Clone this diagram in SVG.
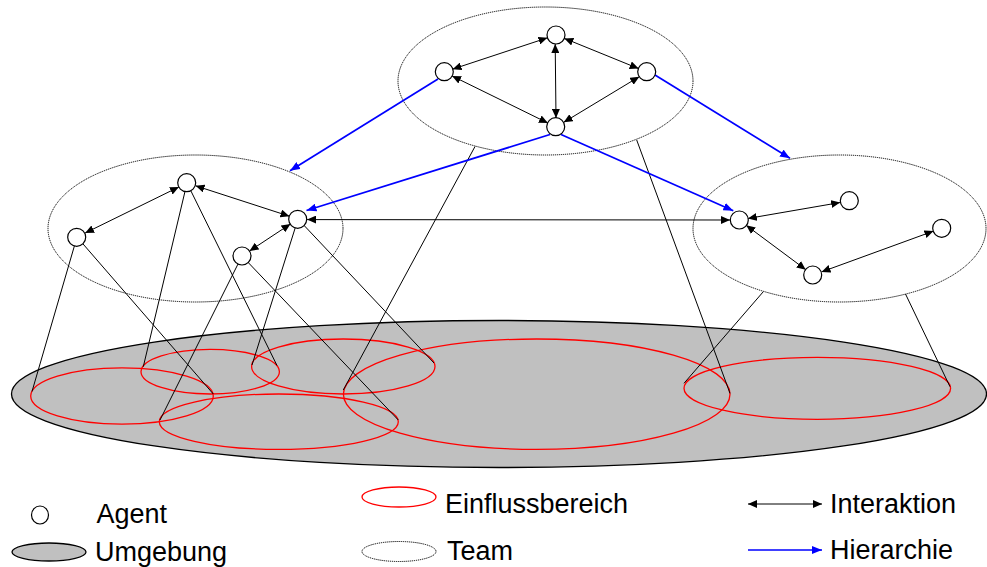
<svg xmlns="http://www.w3.org/2000/svg" width="987" height="567" viewBox="0 0 987 567">
<style>
.env{fill:#c0c0c0;stroke:#000;stroke-width:1.3}
.inf{fill:none;stroke:#ff0000;stroke-width:1.3}
.team{fill:none;stroke:#000;stroke-width:1;stroke-dasharray:1.2 0.8}
.agent{fill:#fff;stroke:#000;stroke-width:1.2}
.proj{fill:none;stroke:#000;stroke-width:1}
.ia{fill:none;stroke:#000;stroke-width:1;marker-start:url(#ah);marker-end:url(#ah)}
.hi{fill:none;stroke:#0000ff;stroke-width:1.7;marker-end:url(#bh)}
text{font-family:"Liberation Sans",Arial,sans-serif;font-size:27px;fill:#000}
</style>
<defs>
<marker id="ah" markerUnits="userSpaceOnUse" markerWidth="9" markerHeight="8" refX="9" refY="4" orient="auto-start-reverse" viewBox="0 0 9 8"><path d="M0,0 L9,4 L0,8 z" fill="#000"/></marker>
<marker id="bh" markerUnits="userSpaceOnUse" markerWidth="10" markerHeight="8" refX="10" refY="4" orient="auto" viewBox="0 0 10 8"><path d="M0,0 L10,4 L0,8 z" fill="#0000ff"/></marker>
</defs>

<g id="umgebung"><ellipse class="env" cx="499" cy="394" rx="487.5" ry="73.5"/></g>

<g id="einflussbereiche">
<ellipse id="inf1" class="inf" cx="122" cy="396" rx="91.3" ry="28.2"/>
<ellipse id="inf2" class="inf" cx="210.2" cy="371.7" rx="69.2" ry="22.3"/>
<ellipse id="inf3" class="inf" cx="343.3" cy="366.5" rx="91.7" ry="27.5"/>
<ellipse id="inf4" class="inf" cx="278.8" cy="421.7" rx="119.5" ry="27.7"/>
<ellipse id="inf5" class="inf" cx="536.7" cy="394.2" rx="193.3" ry="55.2"/>
<ellipse id="inf6" class="inf" cx="817.3" cy="388.3" rx="133.3" ry="31"/>
</g>

<g id="teams">
<ellipse id="team-top" class="team" cx="545.5" cy="81" rx="147.5" ry="74"/>
<ellipse id="team-left" class="team" cx="195.5" cy="228.5" rx="147.5" ry="73.5"/>
<ellipse id="team-right" class="team" cx="839.5" cy="228.5" rx="146.5" ry="73.5"/>
</g>

<g id="connectors">
<g id="projections">
<line class="proj" x1="77" y1="237" x2="32" y2="391.5"/>
<line class="proj" x1="77" y1="237" x2="213.3" y2="394"/>
<line class="proj" x1="187" y1="183" x2="143.3" y2="366.7"/>
<line class="proj" x1="187" y1="183" x2="277" y2="365.5"/>
<line class="proj" x1="242" y1="256" x2="160" y2="420"/>
<line class="proj" x1="242" y1="256" x2="398.3" y2="420"/>
<line class="proj" x1="298" y1="219" x2="252" y2="365"/>
<line class="proj" x1="298" y1="219" x2="434" y2="363"/>
<line class="proj" x1="475" y1="146.5" x2="343.3" y2="390"/>
<line class="proj" x1="636.7" y1="140" x2="730" y2="393.3"/>
<line class="proj" x1="763.3" y1="291.7" x2="684" y2="383.3"/>
<line class="proj" x1="905.5" y1="294" x2="950" y2="386.7"/>
</g>
<g id="interaktionen">
<line class="ia" x1="547.45" y1="37.82" x2="452.55" y2="69.18"/>
<line class="ia" x1="564.34" y1="38.39" x2="638.66" y2="68.61"/>
<line class="ia" x1="555.2" y1="44" x2="556" y2="118"/>
<line class="ia" x1="452.08" y1="75.97" x2="547.92" y2="123.03"/>
<line class="ia" x1="639.3" y1="76.66" x2="563.7" y2="122.34"/>
<line class="ia" x1="178.92" y1="186.97" x2="85.08" y2="233.03"/>
<line class="ia" x1="195.56" y1="185.78" x2="289.44" y2="216.22"/>
<line class="ia" x1="290.49" y1="223.96" x2="249.51" y2="251.04"/>
<line class="ia" x1="307" y1="219.6" x2="730" y2="220"/>
<line class="ia" x1="747.87" y1="218.47" x2="840.13" y2="202.53"/>
<line class="ia" x1="746.22" y1="225.37" x2="805.78" y2="269.63"/>
<line class="ia" x1="821.46" y1="271.92" x2="933.54" y2="231.08"/>
</g>
<g id="hierarchie">
<line class="hi" x1="438" y1="79" x2="290" y2="170.7"/>
<line class="hi" x1="655" y1="75" x2="790" y2="158.3"/>
<line class="hi" x1="550" y1="134.5" x2="306.5" y2="210.5"/>
<line class="hi" x1="561" y1="134.5" x2="733.3" y2="210.7"/>
</g>
</g>

<g id="agents">
<circle id="t1" class="agent" cx="556" cy="35" r="9"/>
<circle id="t2" class="agent" cx="444.3" cy="71.7" r="9"/>
<circle id="t3" class="agent" cx="646.7" cy="71.7" r="9"/>
<circle id="t4" class="agent" cx="555.7" cy="126.7" r="9"/>
<circle id="l1" class="agent" cx="186.7" cy="182.7" r="9"/>
<circle id="l2" class="agent" cx="76.7" cy="237.3" r="9"/>
<circle id="l3" class="agent" cx="297.7" cy="219.3" r="9"/>
<circle id="l4" class="agent" cx="242" cy="256" r="9"/>
<circle id="r1" class="agent" cx="739.3" cy="220" r="9"/>
<circle id="r2" class="agent" cx="849.3" cy="200.7" r="9"/>
<circle id="r3" class="agent" cx="941.7" cy="228.3" r="9"/>
<circle id="r4" class="agent" cx="812.7" cy="275" r="9"/>
</g>

<g id="legende">
<ellipse class="agent" cx="40" cy="515" rx="8.5" ry="9"/>
<text x="96.5" y="523">Agent</text>
<ellipse class="env" cx="49" cy="552" rx="37" ry="9"/>
<text x="95" y="561">Umgebung</text>
<ellipse class="inf" cx="399" cy="497" rx="37" ry="10"/>
<text x="445" y="513">Einflussbereich</text>
<ellipse class="team" cx="399" cy="551.5" rx="37" ry="10"/>
<text x="447" y="560">Team</text>
<line class="ia" x1="748" y1="504" x2="822" y2="504"/>
<text x="830" y="513">Interaktion</text>
<line class="hi" x1="748" y1="550" x2="822" y2="550"/>
<text x="830" y="558.5">Hierarchie</text>
</g>
</svg>
